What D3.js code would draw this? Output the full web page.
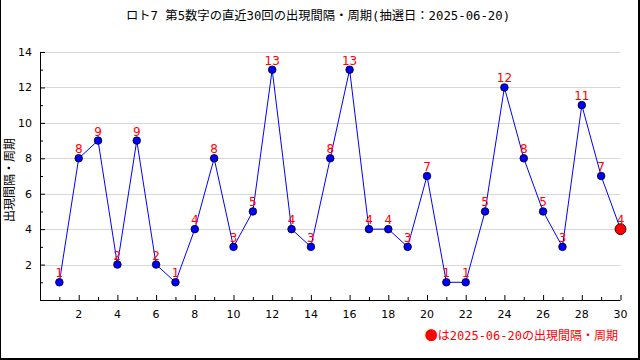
<!DOCTYPE html>
<html>
<head>
<meta charset="utf-8">
<script src="https://cdn.jsdelivr.net/npm/d3@7"></script>
<style>
  body { margin: 0; background: #fff; }
  svg { display: block; font-family: "Noto Sans CJK JP", "DejaVu Sans", sans-serif; }
</style>
</head>
<body>
<script>
// draw numbers 1..30 and the gap (interval) for each
const draws = d3.range(1, 31)
const gaps = [1, 8, 9, 2, 9, 2, 1, 4, 8, 3, 5, 13, 4, 3, 8, 13, 4, 4, 3, 7, 1, 1, 5, 12, 8, 5, 3, 11, 7, 4]
const yTicks = [2, 4, 6, 8, 10, 12, 14]
const xTicks = [2, 4, 6, 8, 10, 12, 14, 16, 18, 20, 22, 24, 26, 28, 30]
const title = "ロト7 第5数字の直近30回の出現間隔・周期(抽選日：2025-06-20)"
const yLabel = "出現間隔・周期"
const legendMark = "●"
const legendText = "は2025-06-20の出現間隔・周期"

const width = 640, height = 360
const mono = "'DejaVu Sans Mono', 'Noto Sans CJK JP', monospace"
const svg = d3.select("body").append("svg")
  .attr("width", width)
  .attr("height", height)

// frame: left, right, bottom
svg.append("line").attr("x1", 0.5).attr("x2", 0.5).attr("y1", 0).attr("y2", height).attr("stroke", "#000")
svg.append("line").attr("x1", 639).attr("x2", 639).attr("y1", 0).attr("y2", height).attr("stroke", "#000").attr("stroke-width", 2)
svg.append("line").attr("x1", 0).attr("x2", width).attr("y1", 359).attr("y2", 359).attr("stroke", "#000").attr("stroke-width", 2)

const x = d3.scaleLinear().domain([0, 30]).range([40, 620.5])
const y = d3.scaleLinear().domain([0, 14]).range([300, 52])

// title
svg.append("text")
  .attr("x", 318).attr("y", 20)
  .attr("text-anchor", "middle")
  .attr("font-size", 12.3)
  .attr("font-family", mono)
  .text(title)

// grid
svg.append("g").selectAll("line")
  .data(yTicks)
  .join("line")
  .attr("x1", x(0)).attr("x2", x(30))
  .attr("y1", d => Math.round(y(d)) + 0.5).attr("y2", d => Math.round(y(d)) + 0.5)
  .attr("stroke", "#d8d8d8")

// y axis: inside ticks
const yAxis = d3.axisRight(y)
  .tickValues(d3.range(1, 15))
  .tickSize(0)
  .tickFormat("")
const gy = svg.append("g").attr("transform", `translate(${x(0)},0)`).call(yAxis)
gy.select(".domain").remove()
gy.append("line").attr("x1", 0.5).attr("x2", 0.5).attr("y1", y(14)).attr("y2", y(0)).attr("stroke", "#000")
gy.selectAll(".tick line")
  .attr("x2", d => d % 2 === 0 ? 5 : 3)
  .attr("stroke", "#000")
svg.append("g").selectAll("text")
  .data(yTicks)
  .join("text")
  .attr("x", 32).attr("y", d => y(d) + 4)
  .attr("text-anchor", "end")
  .attr("font-size", 11)
  .attr("font-family", "DejaVu Sans")
  .text(d => d)

// x axis: inside ticks
const xAxis = d3.axisTop(x)
  .tickValues(draws)
  .tickSize(0)
  .tickFormat("")
const gx = svg.append("g").attr("transform", `translate(0,${y(0)})`).call(xAxis)
gx.select(".domain").remove()
gx.append("line").attr("x1", x(0)).attr("x2", x(30)).attr("y1", 0.5).attr("y2", 0.5).attr("stroke", "#000")
gx.selectAll(".tick line")
  .attr("y2", d => d % 2 === 0 ? -5 : -3)
  .attr("stroke", "#000")
svg.append("g").selectAll("text")
  .data(xTicks)
  .join("text")
  .attr("x", d => x(d)).attr("y", 318)
  .attr("text-anchor", "middle")
  .attr("font-size", 11)
  .attr("font-family", "DejaVu Sans")
  .text(d => d)

// y label
svg.append("text")
  .attr("transform", `translate(14,180) rotate(-90)`)
  .attr("text-anchor", "middle")
  .attr("font-size", 12)
  .text(yLabel)

// line
const line = d3.line().x((d, i) => x(draws[i])).y(d => y(d))
svg.append("path")
  .datum(gaps)
  .attr("d", line)
  .attr("fill", "none")
  .attr("stroke", "#0000ff")
  .attr("stroke-width", 1)

// points
svg.append("g").selectAll("circle")
  .data(gaps)
  .join("circle")
  .attr("cx", (d, i) => x(draws[i]))
  .attr("cy", d => y(d))
  .attr("r", (d, i) => i === gaps.length - 1 ? 5.5 : 3.8)
  .attr("fill", (d, i) => i === gaps.length - 1 ? "#ff0000" : "#0000ff")
  .attr("stroke", "#000")
  .attr("stroke-width", 0.8)

// value labels
svg.append("g").selectAll("text")
  .data(gaps)
  .join("text")
  .attr("x", (d, i) => x(draws[i]))
  .attr("y", d => y(d) - 5)
  .attr("text-anchor", "middle")
  .attr("font-size", 12)
  .attr("font-family", "DejaVu Sans")
  .attr("fill", "#ff0000")
  .text(d => d)

// legend
const legend = svg.append("text")
  .attr("x", 618).attr("y", 340)
  .attr("text-anchor", "end")
  .attr("font-size", 12)
  .attr("font-family", mono)
  .attr("fill", "#ff0000")
legend.append("tspan").attr("font-family", "Noto Sans CJK JP").attr("font-size", 13).text(legendMark)
legend.append("tspan").text(legendText)
</script>
</body>
</html>
